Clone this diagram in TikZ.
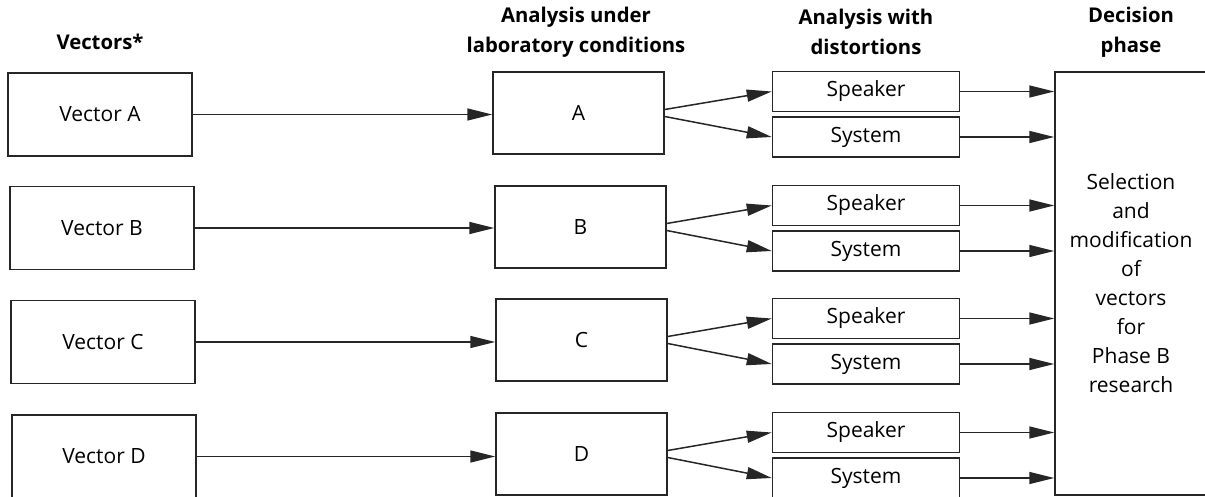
\documentclass[tikz,border=0pt]{standalone}
\usepackage{fontspec}
\setmainfont{Open Sans}
\usetikzlibrary{arrows.meta}
\begin{document}
\begin{tikzpicture}[x=1pt,y=-1pt,
  every node/.style={text=black},
  box/.style={draw=black!85, line width=1.5pt, inner sep=0pt, font=\fontsize{21}{29}\selectfont},
  vecbox/.style={box, minimum width=184pt, minimum height=83pt},
  labbox/.style={box, minimum width=171pt, minimum height=82pt},
  distbox/.style={box, minimum width=187pt, minimum height=40pt},
  head/.style={font=\fontsize{20.3}{30}\selectfont\bfseries, align=center, inner sep=0pt},
  arr/.style={draw=black!85, line width=1.5pt, -{Triangle[length=25pt,width=12pt]}}
]
\useasboundingbox (0,0) rectangle (1205,497);

% headers
\node[head] (h1) at (100,42) {Vectors*};
\node[head] (h2) at (576,32) {Analysis under\\laboratory conditions};
\node[head] (h3) at (866,32) {Analysis with\\distortions};
\node[head] (h4) at (1131,32) {Decision\\phase};

% decision box
\node[box, minimum width=152pt, minimum height=423pt, align=center] (dec) at (1131,283.5)
  {Selection\\and\\modification\\of\\vectors\\for\\Phase B\\research};

% rows
\foreach \r/\L/\vx/\vy/\lx/\top in {a/A/100/114.5/578.5/72, b/B/102/228/580.5/186, c/C/103/342/581.5/299, d/D/104/456.5/581.5/413} {
  \node[vecbox] (v\r) at (\vx,\vy) {Vector \L};
  \node[labbox] (l\r) at (\lx,\top+41) {\L};
  \node[distbox] (sp\r) at (866,\top+19.5) {Speaker};
  \node[distbox] (sy\r) at (866,\top+65) {System};
  \draw[arr] (v\r.east) -- (l\r.west |- v\r.east);
  \draw[arr] ([yshift=3.5pt]l\r.east) -- (sp\r.west);
  \draw[arr] ([yshift=-3.5pt]l\r.east) -- (sy\r.west);
  \draw[arr] (sp\r.east) -- (dec.west |- sp\r.east);
  \draw[arr] (sy\r.east) -- (dec.west |- sy\r.east);
}
\end{tikzpicture}
\end{document}
